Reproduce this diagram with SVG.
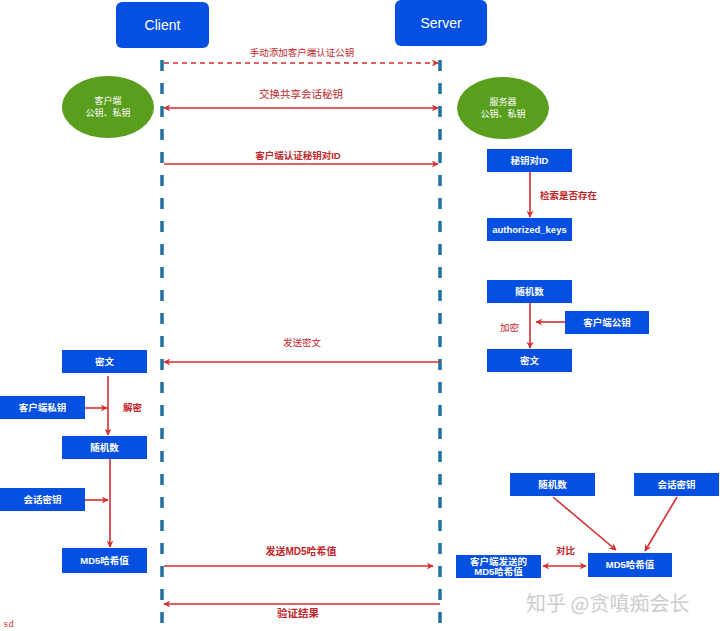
<svg xmlns="http://www.w3.org/2000/svg" width="720" height="631" viewBox="0 0 720 631">
<defs>
<style>
.box{fill:#0550e0;}
.bt{fill:#fff;font-family:"Liberation Sans","Noto Sans CJK SC",sans-serif;font-size:9.5px;font-weight:bold;text-anchor:middle;}
.hd{fill:#fff;font-family:"Liberation Sans","Noto Sans CJK SC",sans-serif;font-size:14px;text-anchor:middle;}
.el{fill:#5a9e1e;}
.et{fill:#fff;font-family:"Liberation Sans","Noto Sans CJK SC",sans-serif;font-size:9px;text-anchor:middle;}
.lb{fill:#c0262a;font-family:"Liberation Sans","Noto Sans CJK SC",sans-serif;font-size:9.5px;font-weight:bold;}
.ln{fill:#c0262a;font-family:"Liberation Sans","Noto Sans CJK SC",sans-serif;font-size:9.5px;font-weight:normal;}
.life{stroke:#21729e;stroke-width:3.5;stroke-dasharray:11 12;fill:none;}
.ar{stroke:#d42e2e;stroke-width:1.6;fill:none;}
</style>
<marker id="ah" viewBox="0 0 10 10" refX="9" refY="5" markerWidth="7" markerHeight="7" orient="auto-start-reverse" markerUnits="userSpaceOnUse"><path d="M0,0 L10,5 L0,10 L3,5 Z" fill="#d42e2e"/></marker>
</defs>
<rect width="720" height="631" fill="#fff"/>

<g id="client"><rect class="box" x="116" y="2" width="93" height="46" rx="6"/><text class="hd" x="162.5" y="30">Client</text></g>
<g id="server"><rect class="box" x="395" y="0" width="92" height="46" rx="6"/><text class="hd" x="441" y="28">Server</text></g>

<g id="lifelines">
<line class="life" x1="162" y1="60" x2="162" y2="631"/>
<line class="life" x1="440" y1="60" x2="440" y2="631"/>
</g>

<g id="client-keys"><ellipse class="el" cx="108" cy="107" rx="46" ry="31"/><text class="et" x="108" y="104">客户端</text><text class="et" x="108" y="116">公钥、私钥</text></g>
<g id="server-keys"><ellipse class="el" cx="503" cy="108" rx="46" ry="31"/><text class="et" x="503" y="105">服务器</text><text class="et" x="503" y="117">公钥、私钥</text></g>

<g id="s-keyid"><rect class="box" x="487" y="149" width="85" height="23"/><text class="bt" x="529.5" y="164">秘钥对ID</text></g>
<g id="s-authkeys"><rect class="box" x="487" y="218" width="85" height="23"/><text class="bt" x="529.5" y="233">authorized_keys</text></g>
<g id="s-random"><rect class="box" x="487" y="280" width="85" height="23"/><text class="bt" x="529.5" y="295">随机数</text></g>
<g id="s-pubkey"><rect class="box" x="565" y="311" width="84" height="23"/><text class="bt" x="607" y="326">客户端公钥</text></g>
<g id="s-cipher"><rect class="box" x="487" y="349" width="85" height="23"/><text class="bt" x="529.5" y="364">密文</text></g>

<g id="c-cipher"><rect class="box" x="62" y="350" width="85" height="23"/><text class="bt" x="104.5" y="365">密文</text></g>
<g id="c-privkey"><rect class="box" x="0" y="396" width="85" height="23"/><text class="bt" x="42.5" y="411">客户端私钥</text></g>
<g id="c-random"><rect class="box" x="62" y="436" width="85" height="23"/><text class="bt" x="104.5" y="451">随机数</text></g>
<g id="c-session"><rect class="box" x="0" y="488" width="85" height="23"/><text class="bt" x="42.5" y="503">会话密钥</text></g>
<g id="c-md5"><rect class="box" x="62" y="548" width="85" height="25"/><text class="bt" x="104.5" y="564">MD5哈希值</text></g>

<g id="s-random2"><rect class="box" x="510" y="473" width="85" height="23"/><text class="bt" x="552.5" y="488">随机数</text></g>
<g id="s-session"><rect class="box" x="634" y="473" width="85" height="23"/><text class="bt" x="676.5" y="488">会话密钥</text></g>
<g id="s-md5"><rect class="box" x="588" y="553" width="84" height="24"/><text class="bt" x="630" y="568">MD5哈希值</text></g>
<g id="s-clientmd5"><rect class="box" x="456" y="555" width="85" height="23"/><text class="bt" x="498.5" y="565">客户端发送的</text><text class="bt" x="498.5" y="575">MD5哈希值</text></g>

<g id="connectors">
<line class="ar" x1="164" y1="63" x2="438" y2="63" stroke-dasharray="5 4" marker-end="url(#ah)"/>
<line class="ar" x1="164" y1="108" x2="438" y2="108" marker-start="url(#ah)" marker-end="url(#ah)"/>
<line class="ar" x1="164" y1="164" x2="438" y2="164" marker-end="url(#ah)"/>
<line class="ar" x1="440" y1="362" x2="164" y2="362" marker-end="url(#ah)"/>
<line class="ar" x1="164" y1="566" x2="433" y2="566" marker-end="url(#ah)"/>
<line class="ar" x1="440" y1="604" x2="164" y2="604" marker-end="url(#ah)"/>
<line class="ar" x1="530" y1="172" x2="530" y2="217" marker-end="url(#ah)"/>
<line class="ar" x1="530" y1="303" x2="530" y2="348" marker-end="url(#ah)"/>
<line class="ar" x1="565" y1="322" x2="536" y2="322" marker-end="url(#ah)"/>
<line class="ar" x1="108" y1="376" x2="108" y2="435" marker-end="url(#ah)"/>
<line class="ar" x1="85" y1="408" x2="107" y2="408" marker-end="url(#ah)"/>
<line class="ar" x1="110" y1="459" x2="110" y2="547" marker-end="url(#ah)"/>
<line class="ar" x1="85" y1="500" x2="108" y2="500" marker-end="url(#ah)"/>
<line class="ar" x1="543" y1="566" x2="586" y2="566" marker-start="url(#ah)" marker-end="url(#ah)"/>
<line class="ar" x1="553" y1="497" x2="616" y2="550" marker-end="url(#ah)"/>
<line class="ar" x1="677" y1="497" x2="645" y2="551" marker-end="url(#ah)"/>
</g>

<g id="labels">
<text class="ln" x="302" y="56" text-anchor="middle">手动添加客户端认证公钥</text>
<text class="ln" x="301" y="98" text-anchor="middle" style="font-size:10.5px">交换共享会话秘钥</text>
<text class="lb" x="298" y="159" text-anchor="middle">客户端认证秘钥对ID</text>
<text class="ln" x="302" y="346" text-anchor="middle">发送密文</text>
<text class="lb" x="301" y="555" text-anchor="middle" style="font-size:10px">发送MD5哈希值</text>
<text class="lb" x="298" y="617" text-anchor="middle" style="font-size:10.5px">验证结果</text>
<text class="lb" x="540" y="199">检索是否存在</text>
<text class="ln" x="500" y="331">加密</text>
<text class="lb" x="123" y="411">解密</text>
<text class="lb" x="556" y="554">对比</text>
</g>

<text x="526" y="611" font-family="'Noto Sans CJK SC',sans-serif" font-size="20" fill="#cccccc">知乎 @贪嗔痴会长</text>
<text x="3" y="627" font-family="'Liberation Mono',monospace" font-size="9" fill="#d42e2e">sd</text>
</svg>
